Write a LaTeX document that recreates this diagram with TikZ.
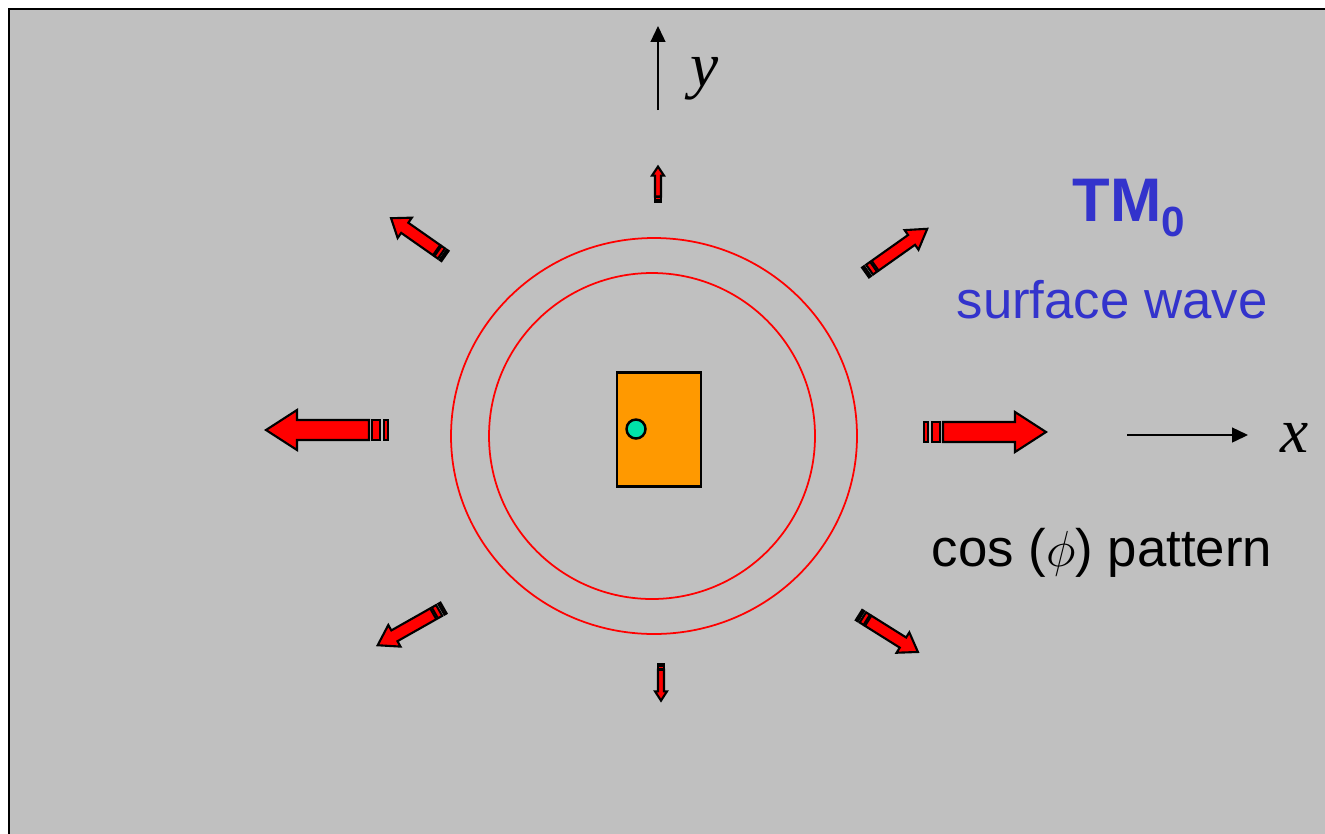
\documentclass[tikz,border=0pt]{standalone}
\usepackage{fontspec}
\setmainfont{Liberation Sans}
\newfontfamily\timesfont{Liberation Serif}
\usetikzlibrary{arrows.meta}
\definecolor{slidegray}{RGB}{192,192,192}
\definecolor{wavered}{RGB}{255,0,0}
\definecolor{patchorange}{RGB}{255,153,0}
\definecolor{feedgreen}{RGB}{0,226,170}
\definecolor{modeblue}{RGB}{51,51,204}

\tikzset{
  outlined/.style={fill=wavered, draw=black, line width=0.6pt},
  ring/.style={draw=wavered, line width=0.5pt},
  axis/.style={line width=0.45pt, -{Triangle[length=4.5pt, width=4.2pt]}},
  % block arrow with two bars at the tail, tail at the origin, pointing along +x
  radarrow/.pic={
    \filldraw[outlined] (0,-10) rectangle (4,10);
    \filldraw[outlined] (8,-10) rectangle (16,10);
    \filldraw[outlined] (19,-10) -- (91,-10) -- (91,-20) -- (122,0) -- (91,20) -- (91,10) -- (19,10) -- cycle;
  }
}

\begin{document}
\begin{tikzpicture}[x=0.01cm, y=-0.01cm]
    \useasboundingbox (0,0) rectangle (1325,833);
    \clip (0,0) rectangle (1325,833);

    % Slide background
    \filldraw[fill=slidegray, draw=black, line width=0.7pt] (9,9) rectangle (1345,850);

    % Rings round the patch
    \draw[ring] (654,436) ellipse (203 and 198);
    \draw[ring] (652,436) circle (163);

    % Patch and feed
    \node[draw=black, fill=patchorange, line width=0.7pt, inner sep=0pt,
          minimum width=0.84cm, minimum height=1.14cm] (patch) at (659,429.5) {};
    \node[draw=black, fill=feedgreen, circle, line width=0.7pt, inner sep=0pt, minimum size=0.19cm] (feed) at (636,429) {};

    % Radiated power, cos(phi) weighted
    \pic[rotate=180] at (388,430) {radarrow};
    \pic[rotate=0] at (924,432) {radarrow};
    \pic[rotate=90, xscale=0.29, yscale=0.3] at (658,202) {radarrow};
    \pic[rotate=-90, xscale=0.3, yscale=0.3] at (661,664) {radarrow};
    \pic[rotate=145, xscale=0.54, yscale=0.62] at (445,256) {radarrow};
    \pic[rotate=35.3, xscale=0.62, yscale=0.6] at (865.5,272.5) {radarrow};
    \pic[rotate=209.5, xscale=0.62, yscale=0.62] at (443.5,608) {radarrow};
    \pic[rotate=-32.1, xscale=0.57, yscale=0.6] at (859,615) {radarrow};

    % Axes
    \coordinate (yfoot) at (658,110);
    \coordinate (ytip) at (658,26);
    \draw[axis] (yfoot) -- (ytip);
    \node[font=\timesfont\itshape\fontsize{18}{18}\selectfont, anchor=base] (ylabel) at (705,86) {y};

    \coordinate (xfoot) at (1127,435);
    \coordinate (xtip) at (1248,435);
    \draw[axis] (xfoot) -- (xtip);
    \node[font=\timesfont\itshape\fontsize{18}{18}\selectfont, anchor=base] (xlabel) at (1295,452) {x};

    % Labels
    \node[text=modeblue, font=\bfseries\fontsize{17.5}{18}\selectfont, anchor=base west, inner sep=0pt] (mode) at (1072,221)
        {TM\raisebox{-4.3pt}{\fontsize{12}{12}\selectfont 0}};
    \node[text=modeblue, font=\fontsize{15}{18}\selectfont, anchor=base] (wave) at (1112,318) {surface wave};
    \node[font=\fontsize{15}{18}\selectfont, anchor=base] (pattern) at (1102,566) {cos ($\phi$) pattern};
\end{tikzpicture}
\end{document}
